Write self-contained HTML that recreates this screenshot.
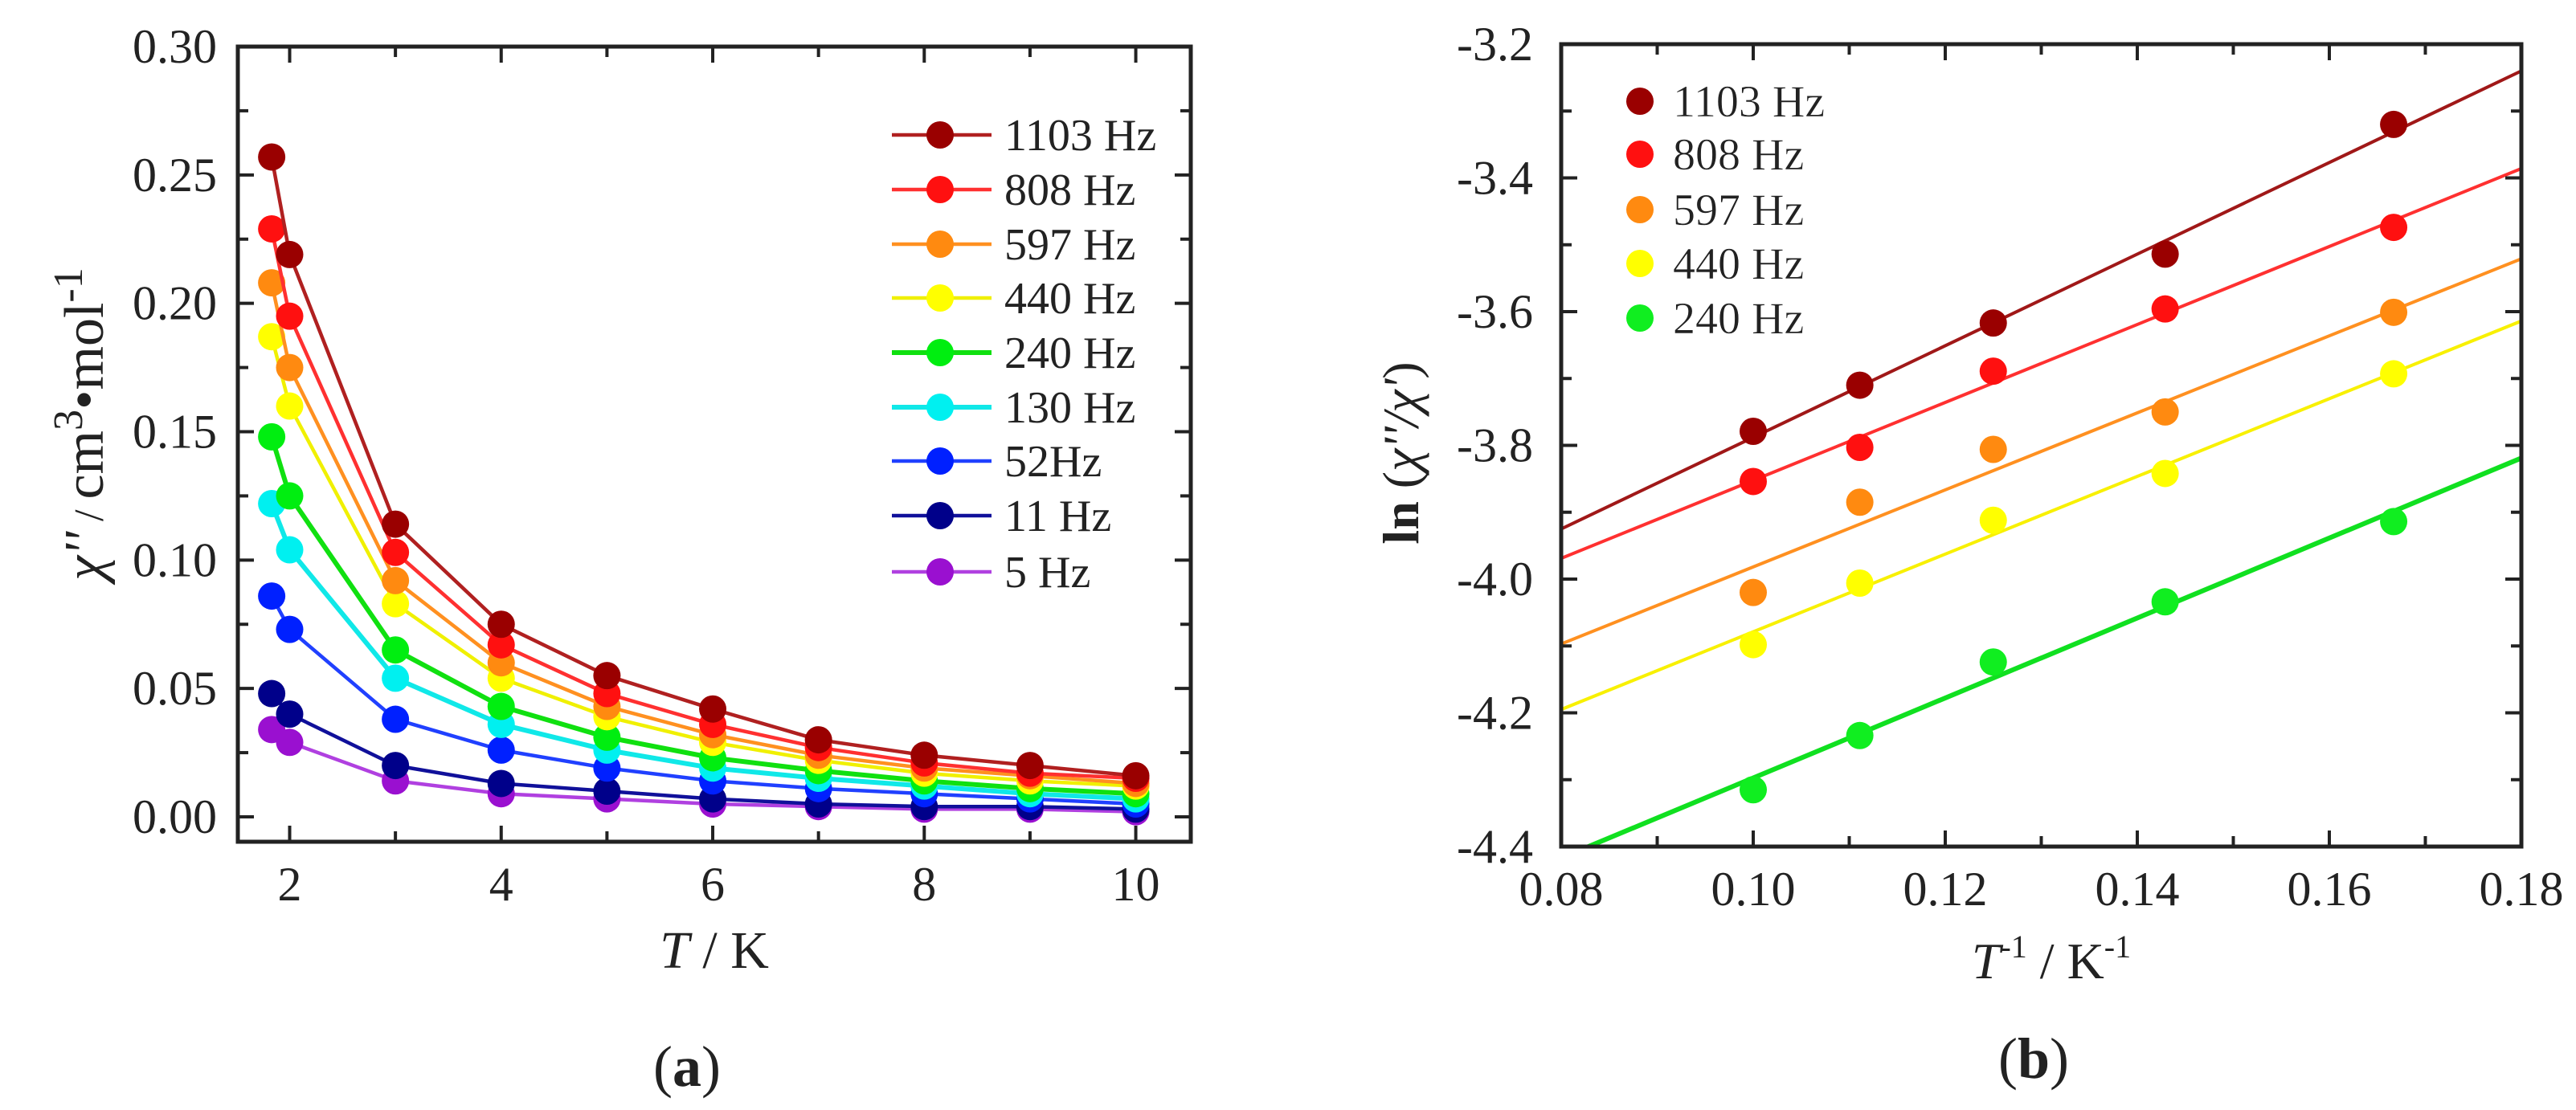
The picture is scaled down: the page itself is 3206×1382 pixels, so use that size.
<!DOCTYPE html>
<html><head><meta charset="utf-8"><style>
html,body{margin:0;padding:0;background:#fff}
svg{display:block}
text{font-family:"Liberation Serif",serif;fill:#222}
</style></head><body>
<svg id="fig" width="3206" height="1382" viewBox="0 0 3206 1382" xmlns="http://www.w3.org/2000/svg">
<g id="pa"></g>
<g id="pb"></g>
</svg>
<script>
// ---- Panel (a) data ----
const tempsA = [1.83, 2, 3, 4, 5, 6, 7, 8, 9, 10];
const seriesNamesA = ["1103 Hz","808 Hz","597 Hz","440 Hz","240 Hz","130 Hz","52Hz","11 Hz","5 Hz"];
const s1103 = [0.257,0.219,0.114,0.075,0.055,0.042,0.030,0.024,0.020,0.016];
const s808  = [0.229,0.195,0.103,0.067,0.048,0.036,0.027,0.021,0.017,0.015];
const s597  = [0.208,0.175,0.092,0.060,0.043,0.032,0.024,0.019,0.016,0.013];
const s440  = [0.187,0.160,0.083,0.054,0.039,0.029,0.022,0.017,0.014,0.012];
const s240  = [0.148,0.125,0.065,0.043,0.031,0.023,0.018,0.014,0.011,0.009];
const s130  = [0.122,0.104,0.054,0.036,0.026,0.019,0.015,0.012,0.009,0.007];
const s52   = [0.086,0.073,0.038,0.026,0.019,0.014,0.011,0.009,0.007,0.005];
const s11   = [0.048,0.040,0.020,0.013,0.010,0.007,0.005,0.004,0.004,0.003];
const s5    = [0.034,0.029,0.014,0.009,0.007,0.005,0.004,0.003,0.003,0.002];
const xTicksA = ["2","4","6","8","10"];
const yTicksA = ["0.00","0.05","0.10","0.15","0.20","0.25","0.30"];
// ---- Panel (b) data ----
const invT = [0.1, 0.1111, 0.125, 0.1429, 0.1667];
const seriesNamesB = ["1103 Hz","808 Hz","597 Hz","440 Hz","240 Hz"];
const b1103 = [-3.779,-3.710,-3.617,-3.514,-3.320];
const b808  = [-3.854,-3.803,-3.689,-3.596,-3.474];
const b597  = [-4.020,-3.885,-3.806,-3.750,-3.601];
const b440  = [-4.098,-4.006,-3.912,-3.842,-3.693];
const b240  = [-4.315,-4.234,-4.124,-4.034,-3.914];
const fitLeft  = [-3.925,-3.969,-4.097,-4.195,-4.417];
const fitRight = [-3.240,-3.386,-3.521,-3.614,-3.819];
const xTicksB = ["0.08","0.10","0.12","0.14","0.16","0.18"];
const yTicksB = ["-4.4","-4.2","-4.0","-3.8","-3.6","-3.4","-3.2"];

const NS="http://www.w3.org/2000/svg";
function el(tag, attrs, parent, txt){
  const e=document.createElementNS(NS,tag);
  for(const k in attrs) e.setAttribute(k,attrs[k]);
  if(txt!==undefined) e.textContent=txt;
  parent.appendChild(e); return e;
}
const colorsA=["#9a0000","#ff1010","#ff8a10","#ffff00","#00ee10","#00f0f0","#0020ff","#00008a","#9a10d0"];
const lineColA=["#b02020","#ff3030","#ff9020","#f0f000","#10e010","#10e8e8","#2040ff","#10109a","#b040e0"];
const R=17;

// ---------- Panel A ----------
const A={L:296,R:1482,T:58,B:1048,x0:1.51,x1:10.52};
const xA=v=>A.L+(v-A.x0)/(A.x1-A.x0)*(A.R-A.L);
const yA=v=>1017-(v/0.30)*(1017-58);
const pa=document.getElementById('pa');
const dataA=[s1103,s808,s597,s440,s240,s130,s52,s11,s5];
for(let s=dataA.length-1;s>=0;s--){
  const g=el('g',{},pa);
  
  
  const pts=tempsA.map((t,i)=>xA(t).toFixed(1)+','+yA(dataA[s][i]).toFixed(1)).join(' ');
  const pl=el('polyline',{points:pts,fill:'none',stroke:lineColA[s],'stroke-width':s===4||s===5?6:4.5},g);
  
  
  tempsA.forEach((t,i)=>{
    const c=el('circle',{cx:xA(t),cy:yA(dataA[s][i]),r:R,fill:colorsA[s]},g);
    
    
  });
}
el('rect',{x:A.L,y:A.T,width:A.R-A.L,height:A.B-A.T,fill:'none',stroke:'#222','stroke-width':5},pa);
for(let t=2;t<=10;t++){
  const len=t%2===0?20:13, x=xA(t);
  el('line',{x1:x,y1:A.B,x2:x,y2:A.B-len,stroke:'#222','stroke-width':4},pa);
  el('line',{x1:x,y1:A.T,x2:x,y2:A.T+len,stroke:'#222','stroke-width':4},pa);
}
for(let k=0;k<=12;k++){
  const v=k*0.025,len=k%2===0?20:13,y=yA(v);
  el('line',{x1:A.L,y1:y,x2:A.L+len,y2:y,stroke:'#222','stroke-width':4},pa);
  el('line',{x1:A.R,y1:y,x2:A.R-len,y2:y,stroke:'#222','stroke-width':4},pa);
}
xTicksA.forEach(l=>{
  const t=el('text',{x:xA(parseFloat(l)),y:1121,'font-size':60,'text-anchor':'middle'},pa,l);
  
  
});
yTicksA.forEach(l=>{
  const t=el('text',{x:270,y:yA(parseFloat(l))+20,'font-size':60,'text-anchor':'end'},pa,l);
  
  
});
const legA=el('g',{},pa);


const legY=[168,236,304,371,439,507,574,642,712];
seriesNamesA.forEach((n,i)=>{
  const g=el('g',{},legA);
  
  
  el('line',{x1:1110,y1:legY[i],x2:1234,y2:legY[i],stroke:lineColA[i],'stroke-width':i===4||i===5?6:4.5},g);
  el('circle',{cx:1170,cy:legY[i],r:R,fill:colorsA[i]},g);
  el('text',{x:1250,y:legY[i]+19,'font-size':56},g,n);
});
const xtA=el('text',{x:889,y:1205,'font-size':66,'text-anchor':'middle'},pa);


xtA.innerHTML='<tspan font-style="italic">T</tspan> / K';
const ytA=el('text',{transform:'translate(128,528) rotate(-90)','font-size':70,'text-anchor':'middle'},pa);


ytA.innerHTML='<tspan font-style="italic">χ\'\'</tspan><tspan font-size="52"> / </tspan>cm<tspan dy="-26" font-size="52">3</tspan><tspan dy="26">•mol</tspan><tspan dy="-26" font-size="52">-1</tspan>';
const capA=el('text',{x:855,y:1352,'font-size':72,'text-anchor':'middle'},pa);


capA.innerHTML='(<tspan font-weight="bold">a</tspan>)';

// ---------- Panel B ----------
const B={L:1943,R:3138,T:55,B:1054,x0:0.08,x1:0.18,y0:-4.4,y1:-3.2};
const xB=v=>B.L+(v-B.x0)/(B.x1-B.x0)*(B.R-B.L);
const yB=v=>B.B-(v-B.y0)/(B.y1-B.y0)*(B.B-B.T);
const pb=document.getElementById('pb');
const dataB=[b1103,b808,b597,b440,b240];
const colB=["#9a0000","#ff1010","#ff8a10","#ffff00","#10ee20"];
const lineB=["#a01818","#ff3030","#ff9020","#f8f000","#10e020"];
el('clipPath',{id:'clipB'},pb);
el('rect',{x:B.L,y:B.T,width:B.R-B.L,height:B.B-B.T},document.getElementById('clipB'));
dataB.forEach((arr,s)=>{
  const g=el('g',{'clip-path':'url(#clipB)'},pb);
  
  
  const fl=el('line',{x1:xB(0.08),y1:yB(fitLeft[s]),x2:xB(0.18),y2:yB(fitRight[s]),stroke:lineB[s],'stroke-width':s===4?6:4},g);
  
  
  invT.forEach((x,i)=>{
    const c=el('circle',{cx:xB(x),cy:yB(arr[i]),r:R,fill:colB[s]},g);
    
    
  });
});
el('rect',{x:B.L,y:B.T,width:B.R-B.L,height:B.B-B.T,fill:'none',stroke:'#222','stroke-width':5},pb);
for(let k=0;k<=10;k++){
  const x=xB(0.08+k*0.01),len=k%2===0?20:13;
  el('line',{x1:x,y1:B.B,x2:x,y2:B.B-len,stroke:'#222','stroke-width':4},pb);
  el('line',{x1:x,y1:B.T,x2:x,y2:B.T+len,stroke:'#222','stroke-width':4},pb);
}
for(let k=0;k<=12;k++){
  const y=yB(-4.4+k*0.1),len=k%2===0?20:13;
  el('line',{x1:B.L,y1:y,x2:B.L+len,y2:y,stroke:'#222','stroke-width':4},pb);
  el('line',{x1:B.R,y1:y,x2:B.R-len,y2:y,stroke:'#222','stroke-width':4},pb);
}
xTicksB.forEach(l=>{
  const t=el('text',{x:xB(parseFloat(l)),y:1127,'font-size':60,'text-anchor':'middle'},pb,l);
  
  
});
yTicksB.forEach(l=>{
  const t=el('text',{x:1908,y:yB(parseFloat(l))+20,'font-size':60,'text-anchor':'end'},pb,l);
  
  
});
const legB=el('g',{},pb);


const legYB=[126,192,261,328,396];
seriesNamesB.forEach((n,i)=>{
  const g=el('g',{},legB);
  
  
  el('circle',{cx:2041,cy:legYB[i],r:R,fill:colB[i]},g);
  el('text',{x:2082,y:legYB[i]+19,'font-size':56,stroke:'#fff','stroke-width':0.5},g,n);
});
const xtB=el('text',{x:2553,y:1218,'font-size':64,'text-anchor':'middle'},pb);


xtB.innerHTML='<tspan font-style="italic">T</tspan><tspan dy="-26" font-size="40">-1</tspan><tspan dy="26"> / K</tspan><tspan dy="-26" font-size="40">-1</tspan>';
const ytB=el('text',{transform:'translate(1765,564) rotate(-90)','font-size':64,'text-anchor':'middle'},pb);


ytB.innerHTML='<tspan font-weight="bold">ln</tspan> (<tspan font-style="italic">χ\'\'/χ\'</tspan>)';
const capB=el('text',{x:2531,y:1342,'font-size':72,'text-anchor':'middle'},pb);


capB.innerHTML='(<tspan font-weight="bold">b</tspan>)';
</script>
</body></html>
